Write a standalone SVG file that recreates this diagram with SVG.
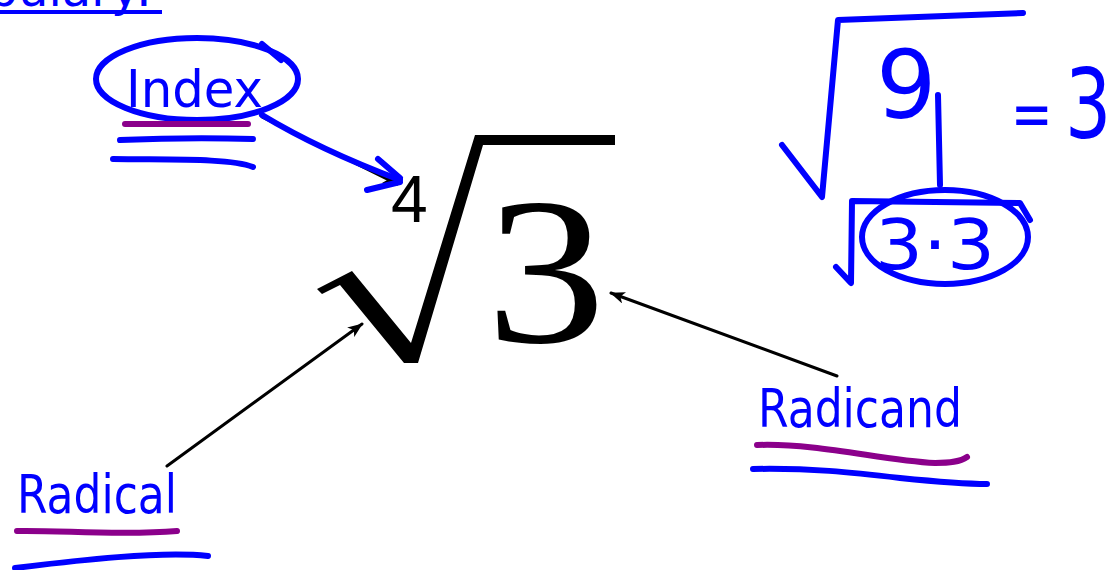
<svg xmlns="http://www.w3.org/2000/svg" width="1113" height="570" viewBox="0 0 1113 570">
<defs>
<style>
.ink{fill:none;stroke:#0000ff;stroke-width:6;stroke-linecap:round;stroke-linejoin:round}
.pur{fill:none;stroke:#8b008b;stroke-width:6;stroke-linecap:round}
.lbl{font-family:"DejaVu Sans",sans-serif;fill:#0000ff}
.arr{fill:none;stroke:#000;stroke-width:3;stroke-linecap:round}
</style>
<marker id="ah" markerUnits="userSpaceOnUse" markerWidth="16" markerHeight="12" refX="14" refY="6" orient="auto">
<path d="M0,0 L15,6 L0,12 L4,6 Z" fill="#000"/>
</marker>
</defs>
<rect width="1113" height="570" fill="#fff"/>

<g id="title">
<text class="lbl" x="152" y="6" font-size="48" text-anchor="end">Vocabulary:</text>
<line x1="0" y1="12" x2="162" y2="12" stroke="#0000ff" stroke-width="4"/>
</g>

<g id="connectors">
<line class="arr" x1="262" y1="117" x2="397" y2="184" marker-end="url(#ah)"/>
<path class="ink" d="M262,115 Q320,150 400,180"/>
<path class="ink" d="M378,159 L400,178 M367,190 L400,182"/>
<line class="arr" x1="167" y1="466" x2="362" y2="324" marker-end="url(#ah)"/>
<line class="arr" x1="837" y1="376" x2="611" y2="293" marker-end="url(#ah)"/>
</g>

<g id="index">
<ellipse class="ink" cx="197" cy="79" rx="101" ry="41"/>
<path class="ink" d="M262,44 L281,60"/>
<text class="lbl" x="126" y="107" font-size="52" textLength="137" lengthAdjust="spacingAndGlyphs">Index</text>
<line class="pur" x1="125" y1="124" x2="248" y2="124"/>
<path class="ink" d="M120,140 Q190,137 253,139"/>
<path class="ink" d="M113,159 C170,160 230,158 253,167"/>
</g>

<g id="expression">
<polygon fill="#000" points="317,289 352,271 411,343 475,135 615,135 615,145 483,145 418,363 404,363 340,285 322,294"/>
<text x="391" y="222" font-family="Liberation Sans, Arial, sans-serif" font-size="66">4</text>
<text x="0" y="0" font-family="Liberation Serif, Times New Roman, serif" font-size="210" transform="translate(486,342) scale(1.14,1)">3</text>
</g>

<g id="radical-label">
<text class="lbl" x="17" y="513" font-size="54" textLength="160" lengthAdjust="spacingAndGlyphs">Radical</text>
<path class="pur" d="M17,531 C60,530 120,536 177,531"/>
<path class="ink" d="M15,568 C80,560 160,551 208,556"/>
</g>

<g id="radicand-label">
<text class="lbl" x="758" y="427" font-size="54" textLength="204" lengthAdjust="spacingAndGlyphs">Radicand</text>
<path class="pur" d="M757,445 C820,443 880,460 935,463 C950,463 960,462 967,457"/>
<path class="ink" d="M753,469 C810,468 850,472 900,478 C940,482 970,484 987,484"/>
</g>

<g id="example">
<path class="ink" d="M782,145 L822,197 L838,20 L1023,13"/>
<text class="lbl" x="0" y="0" font-size="100" transform="translate(876,118) scale(0.95,0.95)">9</text>
<path class="ink" d="M938,95 L940,185"/>
<text class="lbl" x="0" y="0" font-size="66" transform="translate(1011,136) scale(0.75,1)">=</text>
<text class="lbl" x="0" y="0" font-size="97" transform="translate(1065,138) scale(0.75,1)">3</text>
<path class="ink" d="M836,267 L851,283 L852,201 L1020,203 L1030,220"/>
<ellipse class="ink" cx="945" cy="237" rx="83" ry="47"/>
<text class="lbl" x="875" y="269" font-size="70" textLength="120" lengthAdjust="spacingAndGlyphs">3·3</text>
</g>
</svg>
